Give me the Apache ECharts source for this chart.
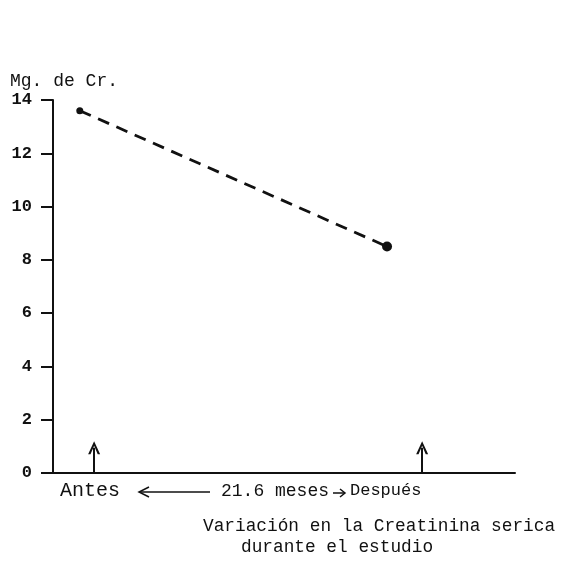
<!DOCTYPE html>
<html>
<head>
<meta charset="utf-8">
<script src="https://cdn.jsdelivr.net/npm/echarts@6/dist/echarts.min.js"></script>
<style>html,body{margin:0;padding:0;background:#fff}#c{width:586px;height:562px}</style>
</head>
<body>
<div id="c"></div>
<script>
// Data
var pointX = [5.8, 72.3];          // horizontal position of the two measurements (0..100 scale)
var creatinine = [13.6, 8.5];      // Mg. de Cr.
var arrowX = [8.9, 79.9];          // positions of the "Antes" / "Después" arrows
var arrowTop = [0.95, 0.95];
var yTicks = [0, 2, 4, 6, 8, 10, 12, 14];
var yName = 'Mg. de Cr.';
var bottomLabels = ['Antes', '21.6 meses', 'Después'];
var titleLines = ['Variación en la Creatinina serica', 'durante el estudio'];

var mono = '"Liberation Mono", "DejaVu Sans Mono", monospace';
var chart = echarts.init(document.getElementById('c'), null, {renderer: 'canvas'});

var lineData = pointX.map(function (x, i) {
  return {value: [x, creatinine[i]], symbolSize: i === 0 ? 7 : 10};
});
var arrowLines = arrowX.map(function (x, i) {
  return [{coord: [x, 0]}, {coord: [x, arrowTop[i]]}];
});

chart.setOption({
  animation: false,
  backgroundColor: '#fff',
  grid: {left: 53, right: 71, top: 100, bottom: 89},
  xAxis: {
    type: 'value', min: 0, max: 100,
    axisLine: {lineStyle: {color: '#111', width: 2}},
    axisTick: {show: false}, axisLabel: {show: false}, splitLine: {show: false}
  },
  yAxis: {
    type: 'value', min: 0, max: 14, interval: 2,
    axisLine: {show: true, lineStyle: {color: '#111', width: 2}},
    axisTick: {show: true, length: 12, lineStyle: {color: '#111', width: 2}},
    axisLabel: {
      color: '#111', fontFamily: mono, fontSize: 17, fontWeight: 'bold', margin: 21,
      formatter: function (v) { return yTicks.indexOf(v) >= 0 ? String(v) : ''; }
    },
    splitLine: {show: false}
  },
  series: [{
    type: 'line',
    data: lineData,
    symbol: 'circle',
    itemStyle: {color: '#111'},
    lineStyle: {color: '#111', width: 2.8, type: [12, 8]},
    markLine: {
      silent: true,
      symbol: ['none', 'path://M0,10 L5,0 L10,10 L8,10 L5,3.6 L2,10 Z'],
      symbolSize: [12, 13],
      label: {show: false},
      lineStyle: {color: '#111', width: 2, type: 'solid'},
      data: arrowLines
    }
  }],
  graphic: [
    {type: 'text', left: 10, top: 72, style: {text: yName, font: '18px ' + mono, fill: '#111'}},
    {type: 'text', left: 60, top: 481, style: {text: bottomLabels[0], font: '20px ' + mono, fill: '#111'}},
    {type: 'line', shape: {x1: 140, y1: 492, x2: 210, y2: 492}, style: {stroke: '#111', lineWidth: 1.5}},
    {type: 'polyline', shape: {points: [[149, 487], [139, 492], [149, 497]]}, style: {stroke: '#111', lineWidth: 1.5, fill: null}},
    {type: 'text', left: 221, top: 482, style: {text: bottomLabels[1], font: '18px ' + mono, fill: '#111'}},
    {type: 'line', shape: {x1: 333, y1: 493, x2: 345, y2: 493}, style: {stroke: '#111', lineWidth: 1.5}},
    {type: 'polyline', shape: {points: [[340, 489], [345, 493], [340, 497]]}, style: {stroke: '#111', lineWidth: 1.5, fill: null}},
    {type: 'text', left: 350, top: 482, style: {text: bottomLabels[2], font: '17px ' + mono, fill: '#111'}},
    {type: 'text', left: 203, top: 517, style: {text: titleLines[0], font: '17.8px ' + mono, fill: '#111'}},
    {type: 'text', left: 241, top: 538, style: {text: titleLines[1], font: '17.8px ' + mono, fill: '#111'}}
  ]
});
</script>
</body>
</html>
